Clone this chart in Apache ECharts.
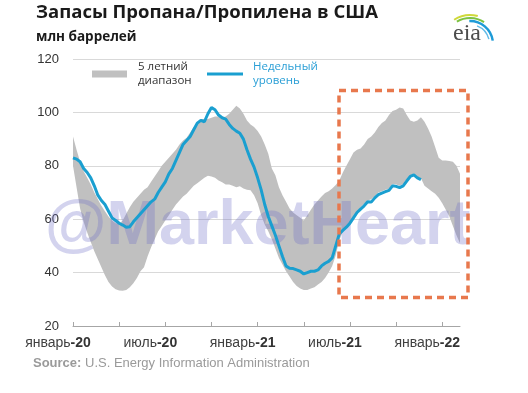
<!DOCTYPE html>
<html><head><meta charset="utf-8">
<script src="https://cdn.jsdelivr.net/npm/echarts/dist/echarts.min.js"></script>
<style>html,body{margin:0;padding:0;background:#fff}#c{width:528px;height:393px}</style>
</head><body><div id="c"></div>
<script>
// ---- data ----
const startDate = '2020-01-03';   // first weekly observation
const weekCount = 110;            // weeks shown on the axis
const tickLabels = ['январь-20', 'июль-20', 'январь-21', 'июль-21', 'январь-22'];
const labelEvery = 26;            // weeks between axis labels

// weekly level (million barrels)
const weeklyLevel = [
  83, 82.5, 81.5, 79, 77.5, 75.5, 72.5, 69, 67, 65.5,
  63, 60.5, 59.5, 58.5, 57.8, 57, 57.2, 59, 60.5, 62,
  63.5, 65, 66.5, 67.5, 70, 72, 74, 77, 79, 82,
  85, 88, 89.5, 91, 93.5, 96, 97, 96.5, 99.5, 101.8,
  101, 99, 98, 97.5, 95.5, 94, 93, 92.2, 90, 86,
  82.5, 79.5, 75.5, 71, 65.5, 61, 57.5, 54, 50, 46,
  42.5, 41.6, 41.5, 41, 40.5, 39.5, 40, 40.5, 40.5, 41,
  42.5, 43.5, 44.2, 45.5, 50, 54.5, 55.8, 57, 58.5, 60.5,
  62.5, 63.8, 65, 66.5, 66.4, 68, 69.2, 69.8, 70.3, 70.8,
  72.5, 72.3, 71.8, 72.5, 74.3, 76, 76.6, 75.5, 74.8
];
// 5-year range, upper bound
const rangeMax = [
  91, 86, 81.5, 78, 75.5, 73, 70, 67.5, 65, 63,
  61, 59.5, 58.5, 58.3, 59.5, 62, 64.5, 66.5, 68, 69.5,
  71, 72, 74, 76, 78, 80, 81.5, 83, 84.5, 86,
  88, 89.5, 90.5, 92.5, 94.5, 96, 97.5, 97.5, 97.5, 98,
  98.5, 98.5, 98, 98.5, 99.5, 101, 102.5, 101.5, 99.5, 97,
  95.5, 94.5, 93, 91, 88, 84.5, 79, 76.5, 72, 69,
  66.5, 64, 62.5, 61.5, 60.5, 59.5, 61.5, 63.5, 65.5, 67,
  68.5, 69.8, 70.5, 71.5, 72.8, 74.5, 77.5, 80, 82.5, 85,
  86, 86.5, 88, 90, 91, 92.5, 94.5, 96, 97, 99,
  100.5, 101, 101.8, 101.5, 99, 97, 96.5, 97, 98.2, 96.5,
  94, 91, 87, 83, 82, 82, 81.8, 81.5, 80, 77
];
// 5-year range, lower bound
const rangeMin = [
  80, 72, 64, 59, 55, 51.5, 48, 45, 42, 39,
  36.5, 34.8, 33.8, 33.3, 33.2, 33.5, 34.5, 36, 38, 40.5,
  42, 46, 49.5, 52.5, 55.5, 57.5, 59.5, 61.5, 63.5, 65.5,
  67, 68.5, 69.5, 71, 72.5, 73.5, 74.5, 75.5, 76.3, 76,
  75.5, 74.5, 73.8, 73, 73, 72.5, 72, 72.3, 71.5, 71,
  70.8, 69, 66, 61.5, 58, 55.5, 52.5, 49, 45.5, 43,
  40.5, 38.5, 36.5, 35, 34, 33.5, 33.5, 34, 34.5, 35.5,
  36.5, 38, 40, 42.5, 46.5, 52, 55.5, 57.5, 59, 61,
  63, 64.5, 65.8, 67, 67.5, 68.7, 70, 70.5, 71, 71.5,
  73.2, 73, 72.5, 73.2, 75, 76.5, 77, 76, 75.3, 72.5,
  71.5, 70.5, 69.5, 68, 66, 63.5, 61, 57.5, 54, 51
];

// ---- build ----
const categories = [];
{
  const d0 = new Date(startDate + 'T00:00:00Z');
  for (let i = 0; i < weekCount; i++) {
    const d = new Date(d0.getTime() + i * 7 * 86400000);
    categories.push(d.toISOString().slice(0, 10));
  }
}
const rangeSpan = rangeMax.map((v, i) => v - rangeMin[i]);

const BLUE = '#1a9fd0';
const GRAY = '#c0c0c0';
const chart = echarts.init(document.getElementById('c'), null, {renderer: 'canvas'});
chart.setOption({
  animation: false,
  backgroundColor: '#fff',
  title: {
    text: 'Запасы Пропана/Пропилена в США',
    subtext: 'млн баррелей',
    left: 36, top: 0, padding: 0, itemGap: 3,
    textStyle: {fontFamily: 'Open Sans', fontWeight: 'bold', fontSize: 18.5, color: '#1a1a1a', lineHeight: 26},
    subtextStyle: {fontFamily: 'Open Sans', fontWeight: 'bold', fontSize: 13.5, color: '#1a1a1a', lineHeight: 16}
  },
  legend: [
    {
      data: [{name: '5 летний\nдиапазон', icon: 'rect'}],
      left: 92, top: 60, padding: 0, itemWidth: 35, itemHeight: 7, selectedMode: false,
      textStyle: {fontFamily: 'Open Sans', fontSize: 11.5, color: '#333', lineHeight: 14, padding: [0, 0, 0, 6]}
    },
    {
      data: [{name: 'Недельный\nуровень', icon: 'rect', itemStyle: {color: BLUE}}],
      left: 207, top: 60, padding: 0, itemWidth: 36, itemHeight: 3, selectedMode: false,
      textStyle: {fontFamily: 'Open Sans', fontSize: 11.5, color: '#2a9fd6', lineHeight: 14, padding: [0, 0, 0, 5]}
    }
  ],
  grid: {left: 73, right: 68, top: 59, bottom: 67},
  xAxis: {
    type: 'category', data: categories, boundaryGap: false,
    axisLine: {lineStyle: {color: '#a6a6a6', width: 1}},
    axisTick: {inside: true, length: 4, interval: 12, lineStyle: {color: '#a6a6a6'}},
    axisLabel: {
      interval: labelEvery - 1, margin: 10, padding: [0, 30, 0, 0],
      formatter: function (v, idx) {
        const t = tickLabels[Math.round(idx / labelEvery)] || '';
        const p = t.split('-');
        return '{m|' + p[0] + '}{y|-' + p[1] + '}';
      },
      rich: {
        m: {fontFamily: 'Liberation Sans', fontSize: 14, color: '#404040'},
        y: {fontFamily: 'Liberation Sans', fontSize: 14, color: '#333', fontWeight: 'bold'}
      }
    },
    splitLine: {show: false}
  },
  yAxis: {
    type: 'value', min: 20, max: 120, interval: 20,
    axisLine: {show: false}, axisTick: {show: false},
    axisLabel: {fontFamily: 'Liberation Sans', fontSize: 13, color: '#333', margin: 14},
    splitLine: {lineStyle: {color: '#d9d9d9', width: 1}}
  },
  series: [
    {
      name: 'base', type: 'line', stack: 'range', data: rangeMin,
      symbol: 'none', lineStyle: {opacity: 0}, silent: true, z: 2
    },
    {
      name: '5 летний\nдиапазон', type: 'line', stack: 'range', data: rangeSpan,
      symbol: 'none', lineStyle: {opacity: 0, width: 0}, itemStyle: {color: GRAY},
      areaStyle: {color: GRAY, opacity: 1}, z: 2
    },
    {
      name: 'Недельный\nуровень', type: 'line', data: weeklyLevel,
      symbol: 'none', lineStyle: {color: BLUE, width: 3}, itemStyle: {color: BLUE}, z: 5
    }
  ],
  graphic: [
    {
      type: 'text', left: 45, top: 195, z: 3, silent: true,
      style: {text: '@MarketHeart', font: 'bold 63px "Liberation Sans"', fill: 'rgba(110,110,200,0.30)'}
    },
    {
      type: 'rect', z: 10, silent: true,
      shape: {x: 339, y: 90.5, width: 129, height: 207},
      style: {fill: 'none', stroke: '#e8784d', lineWidth: 3.5, lineDash: [7, 5]}
    },
    {
      type: 'text', left: 33, top: 357, silent: true,
      style: {
        text: '{b|Source:} U.S. Energy Information Administration',
        font: '13px "Liberation Sans"', fill: '#9a9a9a',
        rich: {b: {fontWeight: 'bold', fontFamily: 'Liberation Sans', fontSize: 13, fill: '#9a9a9a', color: '#9a9a9a'}}
      }
    },
    {
      type: 'group', silent: true,
      children: [
        {type: 'arc', shape: {cx: 470, cy: 44, r: 29, startAngle: -2.15, endAngle: -1.3}, style: {fill: 'none', stroke: '#cfd93a', lineWidth: 2}},
        {type: 'arc', shape: {cx: 470, cy: 44, r: 26, startAngle: -2.1, endAngle: -1.0}, style: {fill: 'none', stroke: '#7dc242', lineWidth: 2}},
        {type: 'arc', shape: {cx: 470, cy: 44, r: 23, startAngle: -1.6, endAngle: -0.15}, style: {fill: 'none', stroke: '#1e9bd7', lineWidth: 2.5}},
        {type: 'arc', shape: {cx: 470, cy: 44, r: 19.5, startAngle: -1.2, endAngle: -0.25}, style: {fill: 'none', stroke: '#62bbe8', lineWidth: 1.5}},
        {type: 'text', x: 453, y: 34, style: {text: 'eia', font: '24px "Liberation Serif"', fill: '#4d4d4d', verticalAlign: 'middle'}}
      ]
    }
  ]
});
</script>
</body></html>
